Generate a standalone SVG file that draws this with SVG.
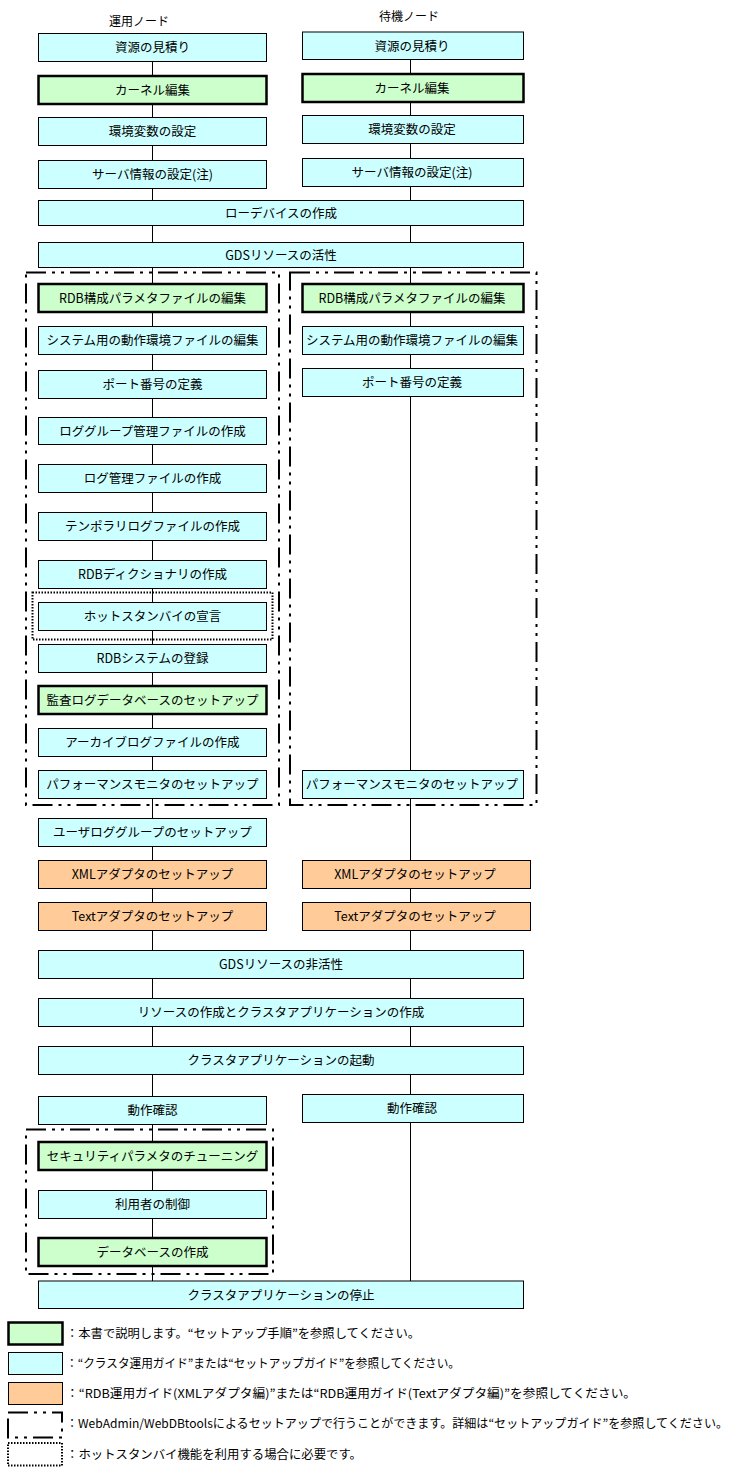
<svg xmlns="http://www.w3.org/2000/svg" width="737" height="1476" viewBox="0 0 737 1476">
<style>
text{font-family:"Noto Sans CJK JP","Noto Sans",sans-serif;font-size:12.5px;fill:#000;text-anchor:middle}
.lg{text-anchor:start;font-size:12px}
.c{fill:#ccffff;stroke:#000;stroke-width:1}
.g{fill:#ccffcc;stroke:#000;stroke-width:2.5}
.o{fill:#ffcc99;stroke:#000;stroke-width:1}
.dd{fill:none;stroke:#000;stroke-width:2;stroke-dasharray:20 6 3 6 3 6}
.dt{fill:none;stroke:#000;stroke-width:2;stroke-dasharray:1.5 1.5}
.ln{stroke:#000;stroke-width:1;fill:none}
</style>
<rect width="737" height="1476" fill="#fff"/>
<text x="139" y="26" style="font-size:12px">運用ノード</text>
<text x="409" y="21" style="font-size:12px">待機ノード</text>
<g id="connectors" class="ln">
<path d="M152.5 61.5V76M152.5 104V117.5M152.5 145.5V160.5M152.5 188.5V200.5M152.5 225.5V242.5M152.5 267.5V284M152.5 312V326.5M152.5 354.5V370.5M152.5 398.5V417.5M152.5 444.5V464.5M152.5 492.5V512.5M152.5 540.5V560.5M152.5 588.5V602.5M152.5 630.5V644.5M152.5 672.5V686M152.5 714V728.5M152.5 756.5V770.5M152.5 798.5V818.5M152.5 846.5V860.5M152.5 888.5V902.5M152.5 930.5V950.5M152.5 978.5V998.5M152.5 1026.5V1046.5M152.5 1074.5V1096.5M152.5 1124.5V1142M152.5 1170V1190.5M152.5 1218.5V1238M152.5 1266V1281"/>
<path d="M410.5 59.5V74M410.5 102V115.5M410.5 143.5V158.5M410.5 186.5V200.5M410.5 225.5V242.5M410.5 267.5V284M410.5 312V326.5M410.5 354.5V368.5M410.5 396.5V770.5M410.5 798.5V860.5M410.5 888.5V902.5M410.5 930.5V950.5M410.5 978.5V998.5M410.5 1026.5V1046.5M410.5 1074.5V1094.5M410.5 1122.5V1281"/>
</g>
<g id="groups">
<rect id="dd-left" class="dd" x="26" y="272.5" width="253" height="532.5"/>
<rect id="dd-right" class="dd" x="290" y="272.5" width="246.5" height="532.5"/>
<rect id="dd-bottom" class="dd" x="26" y="1129.5" width="247" height="144.5"/>
<rect id="dot-hot" class="dt" x="32.5" y="592.5" width="240" height="47"/>
</g>
<g id="n-l1"><rect class="c" x="38.5" y="33.5" width="228" height="28"/><text x="152.5" y="52">資源の見積り</text></g>
<g id="n-l2"><rect class="g" x="38.5" y="76" width="228" height="28"/><text x="152.5" y="94.5">カーネル編集</text></g>
<g id="n-l3"><rect class="c" x="38.5" y="117.5" width="228" height="28"/><text x="152.5" y="136">環境変数の設定</text></g>
<g id="n-l4"><rect class="c" x="38.5" y="160.5" width="228" height="28"/><text x="152.5" y="179">サーバ情報の設定(注)</text></g>
<g id="n-r1"><rect class="c" x="302.5" y="32" width="221" height="27.5"/><text x="412" y="50.5">資源の見積り</text></g>
<g id="n-r2"><rect class="g" x="302.5" y="74" width="221" height="28"/><text x="412" y="92.5">カーネル編集</text></g>
<g id="n-r3"><rect class="c" x="302.5" y="115.5" width="221" height="28"/><text x="412" y="134">環境変数の設定</text></g>
<g id="n-r4"><rect class="c" x="302.5" y="158.5" width="221" height="28"/><text x="412" y="177">サーバ情報の設定(注)</text></g>
<g id="n-s1"><rect class="c" x="38.5" y="200.5" width="485" height="25"/><text x="281" y="217.5">ローデバイスの作成</text></g>
<g id="n-s2"><rect class="c" x="38.5" y="242.5" width="485" height="25"/><text x="281" y="259.5">GDSリソースの活性</text></g>
<g id="n-l5"><rect class="g" x="38.5" y="284" width="228" height="28"/><text x="152.5" y="302.5">RDB構成パラメタファイルの編集</text></g>
<g id="n-l6"><rect class="c" x="38.5" y="326.5" width="228" height="28"/><text x="152.5" y="345">システム用の動作環境ファイルの編集</text></g>
<g id="n-l7"><rect class="c" x="38.5" y="370.5" width="228" height="28"/><text x="152.5" y="389">ポート番号の定義</text></g>
<g id="n-l8"><rect class="c" x="38.5" y="417.5" width="228" height="27"/><text x="152.5" y="435.5">ロググループ管理ファイルの作成</text></g>
<g id="n-l9"><rect class="c" x="38.5" y="464.5" width="228" height="28"/><text x="152.5" y="483">ログ管理ファイルの作成</text></g>
<g id="n-l10"><rect class="c" x="38.5" y="512.5" width="228" height="28"/><text x="152.5" y="531">テンポラリログファイルの作成</text></g>
<g id="n-l11"><rect class="c" x="38.5" y="560.5" width="228" height="28"/><text x="152.5" y="579">RDBディクショナリの作成</text></g>
<g id="n-l12"><rect class="c" x="38.5" y="602.5" width="228" height="28"/><text x="152.5" y="621">ホットスタンバイの宣言</text></g>
<g id="n-l13"><rect class="c" x="38.5" y="644.5" width="228" height="28"/><text x="152.5" y="663">RDBシステムの登録</text></g>
<g id="n-l14"><rect class="g" x="38.5" y="686" width="228" height="28"/><text x="152.5" y="704.5">監査ログデータベースのセットアップ</text></g>
<g id="n-l15"><rect class="c" x="38.5" y="728.5" width="228" height="28"/><text x="152.5" y="747">アーカイブログファイルの作成</text></g>
<g id="n-l16"><rect class="c" x="38.5" y="770.5" width="228" height="28"/><text x="152.5" y="789">パフォーマンスモニタのセットアップ</text></g>
<g id="n-r5"><rect class="g" x="302.5" y="284" width="221" height="28"/><text x="412" y="302.5">RDB構成パラメタファイルの編集</text></g>
<g id="n-r6"><rect class="c" x="302.5" y="326.5" width="221" height="28"/><text x="412" y="345">システム用の動作環境ファイルの編集</text></g>
<g id="n-r7"><rect class="c" x="302.5" y="368.5" width="221" height="28"/><text x="412" y="387">ポート番号の定義</text></g>
<g id="n-r8"><rect class="c" x="302.5" y="770.5" width="221" height="28"/><text x="412" y="789">パフォーマンスモニタのセットアップ</text></g>
<g id="n-l17"><rect class="c" x="38.5" y="818.5" width="228" height="28"/><text x="152.5" y="837">ユーザロググループのセットアップ</text></g>
<g id="n-l18"><rect class="o" x="38.5" y="860.5" width="228" height="28"/><text x="152.5" y="879">XMLアダプタのセットアップ</text></g>
<g id="n-l19"><rect class="o" x="38.5" y="902.5" width="228" height="28"/><text x="152.5" y="921">Textアダプタのセットアップ</text></g>
<g id="n-r9"><rect class="o" x="302.5" y="860.5" width="228" height="28"/><text x="415" y="879">XMLアダプタのセットアップ</text></g>
<g id="n-r10"><rect class="o" x="302.5" y="902.5" width="228" height="28"/><text x="415" y="921">Textアダプタのセットアップ</text></g>
<g id="n-s3"><rect class="c" x="38.5" y="950.5" width="485" height="28"/><text x="281" y="969">GDSリソースの非活性</text></g>
<g id="n-s4"><rect class="c" x="38.5" y="998.5" width="485" height="28"/><text x="281" y="1017">リソースの作成とクラスタアプリケーションの作成</text></g>
<g id="n-s5"><rect class="c" x="38.5" y="1046.5" width="485" height="28"/><text x="281" y="1065">クラスタアプリケーションの起動</text></g>
<g id="n-l20"><rect class="c" x="38.5" y="1096.5" width="228" height="28"/><text x="152.5" y="1115">動作確認</text></g>
<g id="n-r11"><rect class="c" x="302.5" y="1094.5" width="221" height="28"/><text x="412" y="1113">動作確認</text></g>
<g id="n-l21"><rect class="g" x="38.5" y="1142" width="228" height="28"/><text x="152.5" y="1160.5">セキュリティパラメタのチューニング</text></g>
<g id="n-l22"><rect class="c" x="38.5" y="1190.5" width="228" height="28"/><text x="152.5" y="1209">利用者の制御</text></g>
<g id="n-l23"><rect class="g" x="38.5" y="1238" width="228" height="28"/><text x="152.5" y="1256.5">データベースの作成</text></g>
<g id="n-s6"><rect class="c" x="38.5" y="1281" width="485" height="27.5"/><text x="281" y="1299.5">クラスタアプリケーションの停止</text></g>
<g id="legend">
<rect class="g" x="8.5" y="1322.5" width="54" height="22"/>
<text class="lg" x="66" y="1338" textLength="354" lengthAdjust="spacingAndGlyphs">：本書で説明します。“セットアップ手順”を参照してください。</text>
<rect class="c" x="8.5" y="1352.5" width="54" height="22"/>
<text class="lg" x="66" y="1368" textLength="394" lengthAdjust="spacingAndGlyphs">：“クラスタ運用ガイド”または“セットアップガイド”を参照してください。</text>
<rect class="o" x="8.5" y="1382.5" width="54" height="22"/>
<text class="lg" x="66" y="1398" textLength="570" lengthAdjust="spacingAndGlyphs">：“RDB運用ガイド(XMLアダプタ編)”または“RDB運用ガイド(Textアダプタ編)”を参照してください。</text>
<rect class="dd" x="8" y="1412.5" width="54" height="25"/>
<text class="lg" x="66" y="1428" textLength="662" lengthAdjust="spacingAndGlyphs">：WebAdmin/WebDBtoolsによるセットアップで行うことができます。詳細は“セットアップガイド”を参照してください。</text>
<rect class="dt" x="8" y="1443" width="54" height="22.5"/>
<text class="lg" x="66" y="1458.5" textLength="296" lengthAdjust="spacingAndGlyphs">：ホットスタンバイ機能を利用する場合に必要です。</text>
</g>
</svg>
